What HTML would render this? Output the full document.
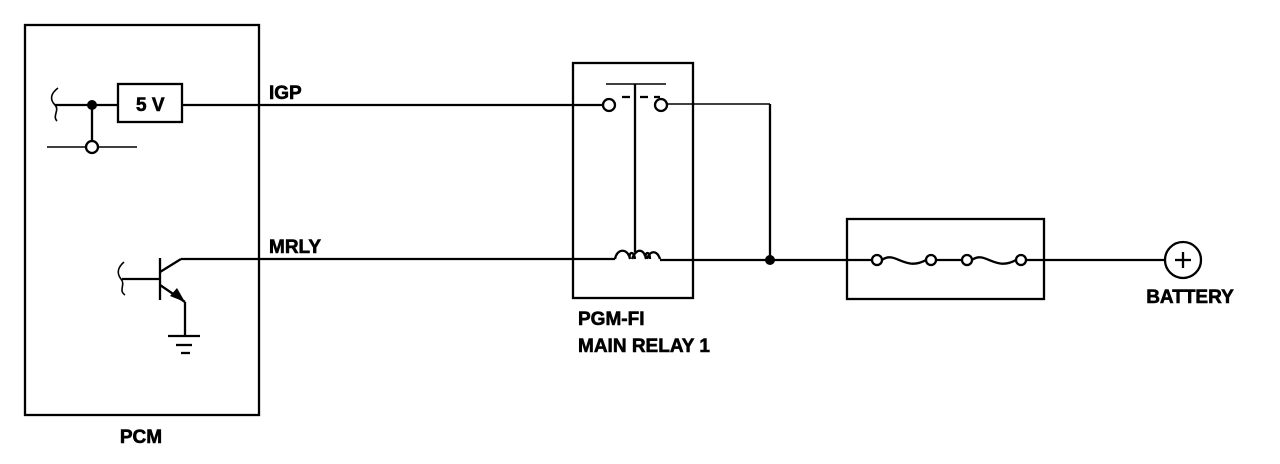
<!DOCTYPE html>
<html><head><meta charset="utf-8"><style>
html,body{margin:0;padding:0;background:#fff;}
svg{display:block}
text{font-family:"Liberation Sans",sans-serif;font-weight:bold;font-size:19px;fill:#000;stroke:#000;stroke-width:0.6}
</style></head><body>
<svg width="1280" height="464" viewBox="0 0 1280 464" xmlns="http://www.w3.org/2000/svg">
<g stroke="#000" stroke-width="2.3" fill="none">
<!-- PCM -->
<rect x="25" y="25" width="234" height="390"/>
<path d="M58 88 C50 94,50 100,55 105 C60 110,52 116,57 121" stroke-width="1.6"/>
<line x1="55" y1="105" x2="118" y2="105"/>
<rect x="118" y="84" width="64" height="38"/>
<line x1="182" y1="105" x2="603" y2="105"/>
<line x1="92" y1="105" x2="92" y2="141"/>
<line x1="47" y1="147" x2="86" y2="147" stroke-width="1.5"/>
<line x1="98" y1="147" x2="137" y2="147" stroke-width="1.5"/>
<circle cx="92" cy="147" r="6" fill="#fff"/>
<!-- transistor -->
<path d="M124 262 C117 268,117 274,121 279 C126 285,118 290,125 295" stroke-width="1.6"/>
<line x1="122" y1="279" x2="160" y2="279"/>
<line x1="160" y1="258" x2="160" y2="300"/>
<line x1="160" y1="272" x2="181" y2="259"/>
<line x1="181" y1="259" x2="615" y2="259"/>
<line x1="160" y1="285" x2="185" y2="302"/>
<line x1="185" y1="302" x2="185" y2="336"/>
<line x1="168" y1="336" x2="200" y2="336"/>
<line x1="176" y1="345" x2="192" y2="345"/>
<line x1="181" y1="353" x2="190" y2="353"/>
<!-- relay -->
<rect x="573" y="63" width="120" height="235"/>
<line x1="606" y1="84" x2="666" y2="84" stroke-width="1.5"/>
<line x1="635" y1="84" x2="635" y2="252"/>
<line x1="622" y1="97" x2="630" y2="97"/>
<line x1="640" y1="97" x2="648" y2="97"/>
<line x1="654" y1="97" x2="660" y2="97"/>
<circle cx="609" cy="105" r="6" fill="#fff"/>
<circle cx="661" cy="105" r="6" fill="#fff"/>
<line x1="667" y1="104" x2="770" y2="104" stroke-width="1.5"/>
<line x1="770" y1="104" x2="770" y2="260"/>
<path d="M615 259 C617 248,628 248,630 259 C628 252,634 250,635 259 M632 259 C636 248,644 248,646 259 C644 252,650 250,650 259 M647 259 C650 250,657 250,660 259"/>
<line x1="660" y1="260" x2="848" y2="260"/>
<!-- fuse -->
<rect x="847" y="219" width="197" height="80"/>
<line x1="848" y1="260" x2="872" y2="260"/>
<circle cx="877" cy="260" r="5" fill="#fff"/>
<path d="M882 260 C895 250,905 272,926 260"/>
<circle cx="931" cy="260" r="5" fill="#fff"/>
<line x1="936" y1="260" x2="962" y2="260"/>
<circle cx="967" cy="260" r="5" fill="#fff"/>
<path d="M972 260 C985 250,995 272,1016 260"/>
<circle cx="1021" cy="260" r="5" fill="#fff"/>
<line x1="1026" y1="260" x2="1165" y2="260"/>
<circle cx="1183" cy="260" r="18"/>
<line x1="1175" y1="260" x2="1191" y2="260"/>
<line x1="1183" y1="252" x2="1183" y2="268"/>
</g>
<circle cx="92" cy="105" r="5" fill="#000"/>
<circle cx="770" cy="260" r="5" fill="#000"/>
<polygon points="185,302 170,296 177,288" fill="#000"/>
<text x="136" y="111">5 V</text>
<text x="269" y="99">IGP</text>
<text x="269" y="253">MRLY</text>
<text x="141" y="443" text-anchor="middle">PCM</text>
<text x="578" y="325">PGM-FI</text>
<text x="578" y="352">MAIN RELAY 1</text>
<text x="1190" y="303" text-anchor="middle">BATTERY</text>
</svg>
</body></html>
